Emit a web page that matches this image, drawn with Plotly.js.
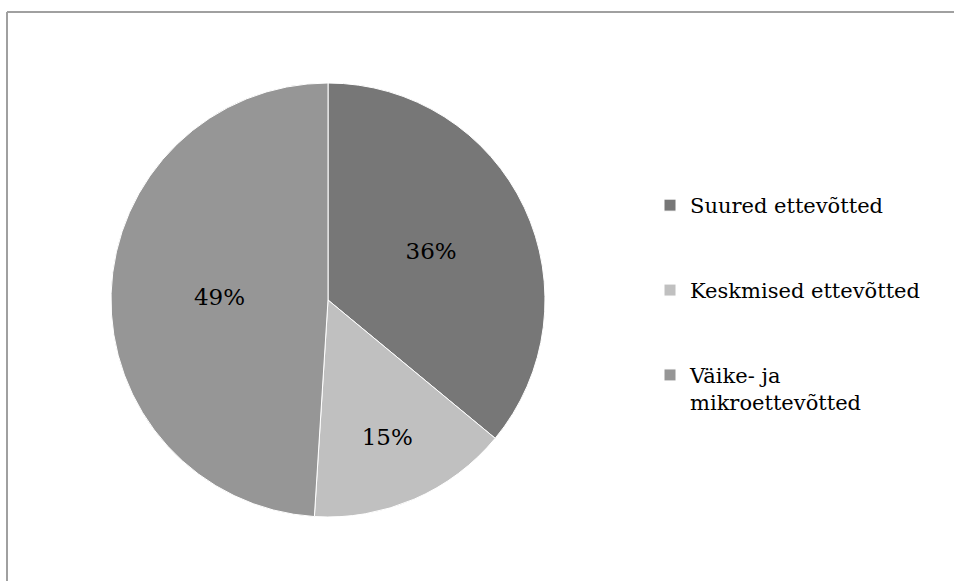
<!DOCTYPE html>
<html>
<head>
<meta charset="utf-8">
<script src="https://cdn.plot.ly/plotly-3.0.1.min.js"></script>
<style>html,body{margin:0;padding:0;background:#fff;}#chart{width:954px;height:581px;}</style>
</head>
<body>
<div id="chart"></div>
<script>
const categories = ["Suured ettevõtted", "Keskmised ettevõtted", "Väike- ja<br>mikroettevõtted"];
const shares = [36, 15, 49];
const sliceColors = ["#777777", "#c0c0c0", "#969696"];

const W = 954, H = 581;
const pad = "<br>\u00a0<br>\u00a0";
const legendNames = categories.map(c => c + pad);

const trace = {
  type: "pie",
  labels: legendNames,
  values: shares,
  sort: false,
  direction: "clockwise",
  rotation: 0,
  marker: { colors: sliceColors, line: { color: "#ffffff", width: 1 } },
  textinfo: "percent",
  textposition: "inside",
  insidetextorientation: "horizontal",
  textfont: { family: "DejaVu Serif", size: 23, color: "#000000" },
  hoverinfo: "none",
  domain: { x: [110 / W, 546 / W], y: [(H - 517) / H, (H - 83) / H] }
};

const layout = {
  width: W, height: H,
  margin: { l: 0, r: 0, t: 0, b: 0 },
  paper_bgcolor: "#ffffff",
  showlegend: true,
  legend: {
    x: 650 / W, xanchor: "left",
    y: 1 - 185 / H, yanchor: "top",
    valign: "top",
    font: { family: "DejaVu Serif", size: 21, color: "#000000" },
    bgcolor: "rgba(0,0,0,0)"
  },
  shapes: [
    { type: "line", xref: "paper", yref: "paper", x0: 7 / W, x1: 1, y0: 1 - 12 / H, y1: 1 - 12 / H, line: { color: "#a0a0a0", width: 2 } },
    { type: "line", xref: "paper", yref: "paper", x0: 7 / W, x1: 7 / W, y0: 0, y1: 1 - 12 / H, line: { color: "#a0a0a0", width: 2 } }
  ]
};

Plotly.newPlot("chart", [trace], layout, { displayModeBar: false, staticPlot: true });
</script>
</body>
</html>
